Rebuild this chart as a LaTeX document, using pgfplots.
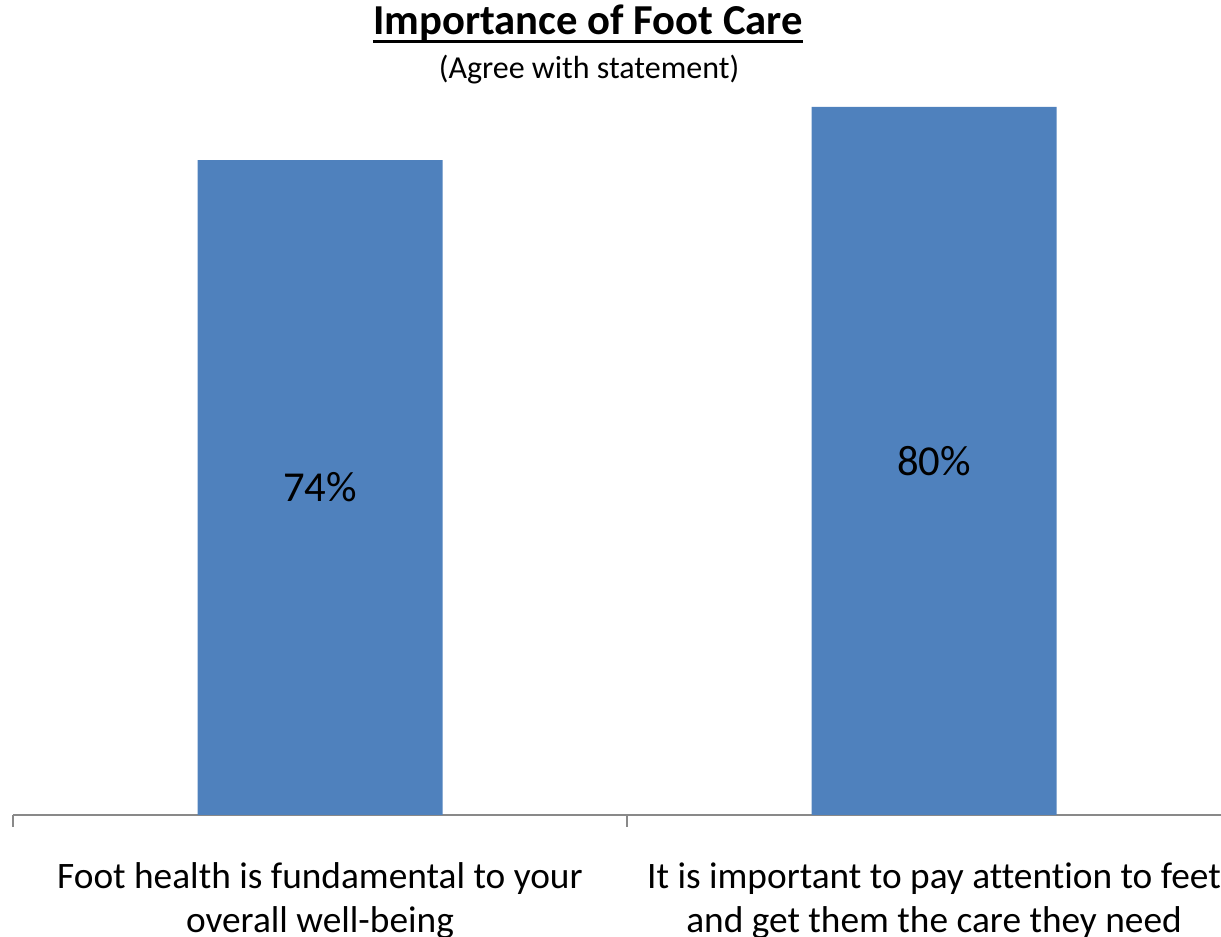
\documentclass[border=0pt]{standalone}
\usepackage{pgfplots}
\pgfplotsset{compat=1.18}
\usepackage{fontspec}
\setmainfont{Carlito}[Ligatures=NoCommon]
\definecolor{barblue}{HTML}{4F81BD}
\definecolor{axisgray}{HTML}{898989}
\begin{document}
\begin{tikzpicture}
\begin{axis}[
  at={(0,0)}, anchor=south west,
  width=921pt, height=531pt, scale only axis,
  xmin=-0.5, xmax=1.5, ymin=0, ymax=80,
  axis y line=none, axis x line*=bottom,
  x axis line style={draw=axisgray, line width=1.5pt, -},
  xtick={0,1},
  xticklabels={{Foot health is fundamental to your\\overall well-being},{It is important to pay attention to feet\\and get them the care they need}},
  major tick length=0pt,
  tick align=outside,
  xticklabel style={font=\fontsize{28}{33}\selectfont, align=center, anchor=north, yshift=-32pt},
  extra x ticks={-0.5,0.5,1.5}, extra x tick labels={},
  extra x tick style={major tick length=9pt, tick style={draw=axisgray, line width=1.5pt}},
  clip=false,
]
\addplot[ybar, bar width=183.75pt, fill=barblue, draw=none] coordinates {(0,74) (1,80)};
\addplot[only marks, mark=none, nodes near coords, point meta=explicit symbolic,
  every node near coord/.append style={anchor=center, font=\fontsize{32}{38}\selectfont, text=black}]
  coordinates {(0,37)[74\%] (1,40)[80\%]};
\end{axis}
\node[anchor=base, inner sep=0pt, font=\bfseries\fontsize{32}{38}\selectfont] (t) at (431.25pt,585pt) {Importance of Foot Care};
\draw[line width=2.5pt] ([yshift=-5pt]t.base west) -- ([yshift=-5pt]t.base east);
\node[anchor=base, inner sep=0pt, font=\fontsize{24}{29}\selectfont] at (432pt,552pt) {(Agree with statement)};
\pgfresetboundingbox
\useasboundingbox (-9.75pt,-91.5pt) rectangle (906pt,611.25pt);
\end{tikzpicture}
\end{document}
